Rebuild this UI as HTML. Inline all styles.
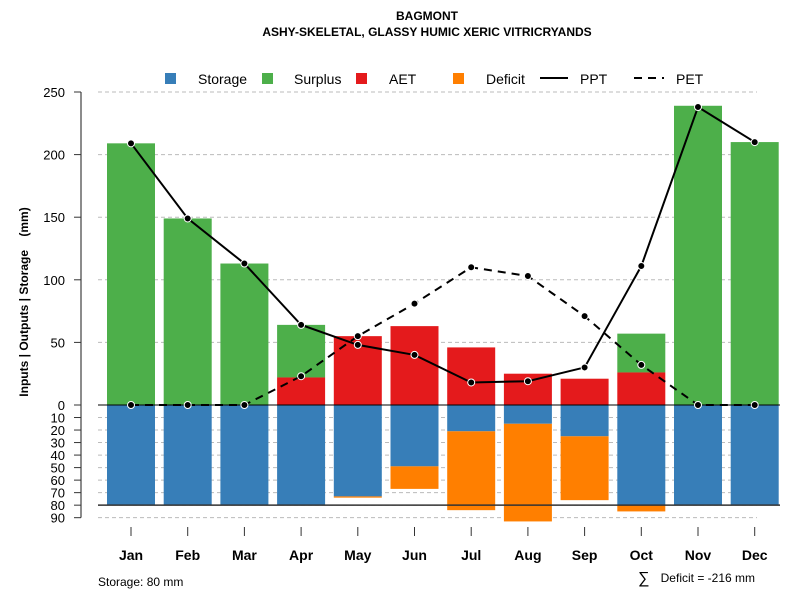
<!DOCTYPE html>
<html><head><meta charset="utf-8"><style>
body{margin:0;background:#fff;}
svg text{font-family:"Liberation Sans",sans-serif;}
</style></head><body>
<svg id="c" width="800" height="600"></svg>
<script>
const months=["Jan","Feb","Mar","Apr","May","Jun","Jul","Aug","Sep","Oct","Nov","Dec"];
const surplusTop=[209,149,113,64,0,0,0,0,0,57,239,210];
const aet=[0,0,0,22,55,63,46,25,21,26,0,0];
const ppt=[209,149,113,64,48,40,18,19,30,111,238,210];
const pet=[0,0,0,23,55,81,110,103,71,32,0,0];
const storage=[80,80,80,80,73,49,21,15,25,80,80,80];
const deficit=[0,0,0,0,1,18,63,78,51,5,0,0];
const upTicks=[0,50,100,150,200,250];
const downTicks=[10,20,30,40,50,60,70,80,90];
const storageMax=80;
const NS="http://www.w3.org/2000/svg";
const svg=document.getElementById('c');
function el(t,a,p){const e=document.createElementNS(NS,t);for(const k in a)e.setAttribute(k,a[k]);(p||svg).appendChild(e);return e;}
const y0=405,k=1.252;
const yUp=v=>y0-v*k, yDn=v=>y0+v*k;
const xC=i=>131+i*56.7, bw=48;
upTicks.forEach(v=>{const g=el('line',{x1:98,x2:757,y1:yUp(v),y2:yUp(v),stroke:'#bbb','stroke-dasharray':'4,3'});});
downTicks.forEach(v=>{const g=el('line',{x1:98,x2:757,y1:yDn(v),y2:yDn(v),stroke:'#bbb','stroke-dasharray':'4,3'});});
months.forEach((m,i)=>{
 const x=xC(i)-bw/2;
 if(surplusTop[i]>aet[i]){const r=el('rect',{x:x,y:yUp(surplusTop[i]),width:bw,height:(surplusTop[i]-aet[i])*k,fill:'#4daf4a'});}
 if(aet[i]>0){const r=el('rect',{x:x,y:yUp(aet[i]),width:bw,height:aet[i]*k,fill:'#e41a1c'});}
 const s=el('rect',{x:x,y:y0,width:bw,height:storage[i]*k,fill:'#377eb8'});
 if(deficit[i]>0){const r=el('rect',{x:x,y:yDn(storage[i]),width:bw,height:deficit[i]*k,fill:'#ff7f00'});}
 const t=el('line',{x1:xC(i),x2:xC(i),y1:527,y2:536,stroke:'#333'});
 const l=el('text',{x:xC(i),y:560,'text-anchor':'middle','font-size':14,'font-weight':'bold'});l.textContent=m;
});
let zl=el('line',{x1:98,x2:780,y1:y0,y2:y0,stroke:'#000'});
let sl=el('line',{x1:98,x2:780,y1:yDn(storageMax),y2:yDn(storageMax),stroke:'#333','stroke-width':1.5});
function series(arr,dash,name){
 const d=arr.map((v,i)=>(i?'L':'M')+xC(i)+','+yUp(v)).join('');
 const p=el('path',{d:d,fill:'none',stroke:'#000','stroke-width':2,'stroke-dasharray':dash});
 arr.forEach((v,i)=>{const c=el('circle',{cx:xC(i),cy:yUp(v),r:3.5,fill:'#000',stroke:'#fff','stroke-width':1});});
}
series(pet,'8,6','pet');
series(ppt,'none','ppt');
let ya=el('line',{x1:81,x2:81,y1:yUp(250),y2:yDn(90),stroke:'#666','stroke-width':1.5});
upTicks.forEach(v=>{el('line',{x1:74,x2:81,y1:yUp(v),y2:yUp(v),stroke:'#333'});const t=el('text',{x:65,y:yUp(v)+5,'text-anchor':'end','font-size':13});t.textContent=v;});
downTicks.forEach(v=>{el('line',{x1:74,x2:81,y1:yDn(v),y2:yDn(v),stroke:'#333'});const t=el('text',{x:65,y:yDn(v)+5,'text-anchor':'end','font-size':13});t.textContent=v;});
let yt=el('text',{x:0,y:0,transform:'translate(28,302) rotate(-90)','text-anchor':'middle','font-size':12,'font-weight':'bold'});yt.textContent='Inputs | Outputs | Storage\u00a0\u00a0\u00a0\u00a0(mm)';
let t1=el('text',{x:427,y:20,'text-anchor':'middle','font-size':12,'font-weight':'bold'});t1.textContent='BAGMONT';
let t2=el('text',{x:427,y:36,'text-anchor':'middle','font-size':12,'font-weight':'bold'});t2.textContent='ASHY-SKELETAL, GLASSY HUMIC XERIC VITRICRYANDS';
[['Storage','#377eb8',165,198],['Surplus','#4daf4a',262,294],['AET','#e41a1c',356,389],['Deficit','#ff7f00',453,486]].forEach(([n,c,x,tx])=>{const r=el('rect',{x:x,y:73,width:11,height:11,fill:c});const t=el('text',{x:tx,y:84,'font-size':14});t.textContent=n;});
el('line',{x1:540,x2:568,y1:78,y2:78,stroke:'#000','stroke-width':2});
let lp=el('text',{x:580,y:84,'font-size':14});lp.textContent='PPT';
el('line',{x1:634,x2:664,y1:78,y2:78,stroke:'#000','stroke-width':2,'stroke-dasharray':'8,6'});
let le=el('text',{x:676,y:84,'font-size':14});le.textContent='PET';
let fs=el('text',{x:98,y:586,'font-size':12});fs.textContent='Storage: 80 mm';
let fsum=el('text',{x:638,y:583,'font-size':16});fsum.textContent='∑';
let fd=el('text',{x:755,y:582,'text-anchor':'end','font-size':12});fd.textContent='Deficit = -216 mm';
</script>
</body></html>
